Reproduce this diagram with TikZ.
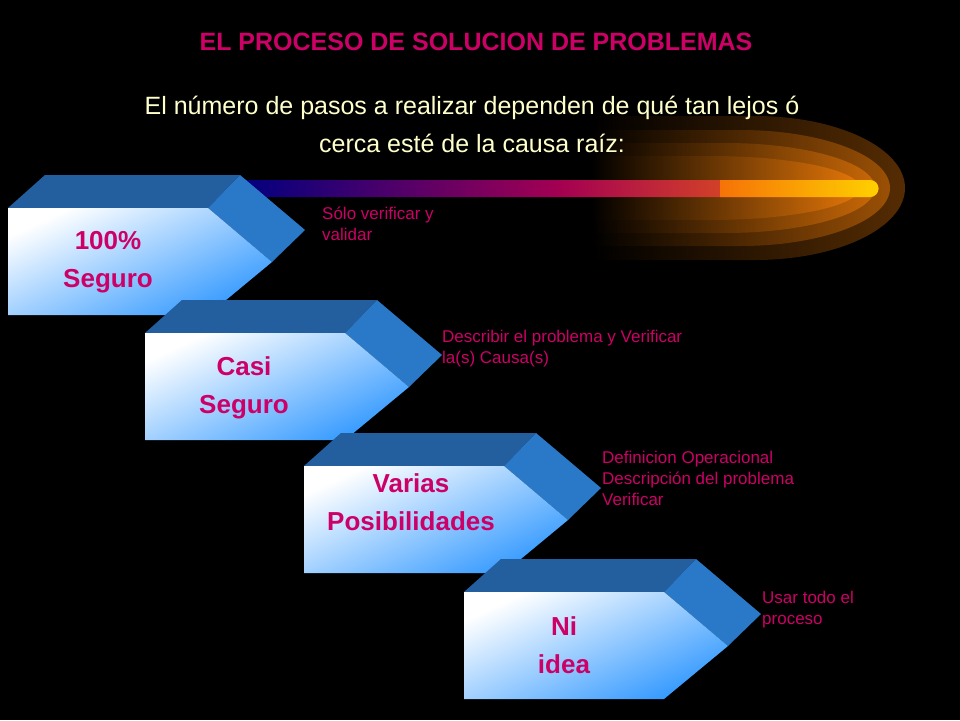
\documentclass[tikz,border=0pt]{standalone}
\usepackage{fontspec}
\setmainfont{Liberation Sans}
\usetikzlibrary{calc}
\definecolor{mag}{HTML}{CC0066}
\definecolor{cream}{HTML}{FFFFCC}
\definecolor{topb}{HTML}{235E9E}
\definecolor{sideb}{HTML}{2A78C8}
\definecolor{frontb}{HTML}{3399FF}
\tikzset{
  lbl/.style={text=mag,font=\fontsize{17}{21}\selectfont,align=left,anchor=north west,inner sep=0pt},
  blk/.style={text=mag,font=\bfseries\fontsize{26}{38}\selectfont,align=center},
}
\newcommand{\myblock}[3]{%
\begin{scope}[shift={(#1,#2)}]
 \fill[topb] (8,208)--(45,175)--(240,175)--(208,208)--cycle;
 \fill[sideb] (240,175)--(305,230)--(272,262)--(208,208)--cycle;
 \shade[left color=white,right color=frontb,shading angle=25]
   (8,208)--(208,208)--(272,262)--(208,315)--(8,315)--cycle;
 \coordinate (#3) at (108,262);
\end{scope}}
\begin{document}
\begin{tikzpicture}[x=1pt,y=-1pt]
\fill[black] (0,0) rectangle (960,720);
\useasboundingbox (0,0) rectangle (960,720);
% glow
\foreach \a/\w/\h in {0.35/315/72, 0.45/300/58, 0.55/285/45, 0.7/270/32}{
 \shade[left color=black,right color=orange!85!brown,opacity=\a]
  (590,188-\h) -- (\w+440,188-\h) arc[start angle=-90,end angle=90,x radius=150,y radius=\h] -- (590,188+\h) -- cycle;
}
% bar
\shade[left color=blue!50!black,right color=orange,middle color=mag!80!black]
 (240,180) -- (870,180) arc[start angle=-90,end angle=90,radius=8.5] -- (240,197) -- cycle;
\shade[left color=orange,right color=yellow!80!orange,opacity=0.8]
 (720,180) -- (870,180) arc[start angle=-90,end angle=90,radius=8.5] -- (720,197) -- cycle;
\myblock{0}{0}{b1}
\myblock{137}{125}{b2}
\myblock{296}{258}{b3}
\myblock{456}{384}{b4}
\node[blk] (t1) at (108,262) {100\%\\Seguro};
\node[blk] (t2) at (244,388) {Casi\\Seguro};
\node[blk] (t3) at (411,502) {Varias\\Posibilidades};
\node[blk] (t4) at (564,645) {Ni\\idea};
\node[text=mag,font=\bfseries\fontsize{25}{28}\selectfont] (title) at (476,42) {EL PROCESO\ DE SOLUCION\ DE PROBLEMAS};
\node[text=cream,font=\fontsize{25}{38}\selectfont,align=center] (sub) at (472,124) {El número de pasos a realizar dependen\ de qué tan lejos ó\\cerca esté de la causa raíz:};
\node[lbl] (l1) at (322,207) {Sólo verificar y\\validar};
\node[lbl] (l2) at (442,330) {Describir el problema y Verificar\\la(s) Causa(s)};
\node[lbl] (l3) at (602,451) {Definicion Operacional\\Descripción del problema\\Verificar};
\node[lbl] (l4) at (762,591) {Usar todo el\\proceso};
\end{tikzpicture}
\end{document}
